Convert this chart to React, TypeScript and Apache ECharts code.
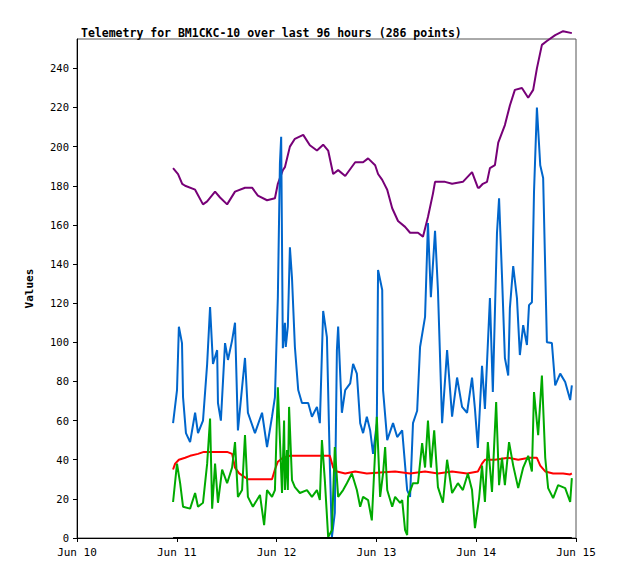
import { useEffect, useRef } from 'react';
import * as echarts from 'echarts';

// x values are hours since Jun 10 00:00
const tickLabels = ['Jun 10', 'Jun 11', 'Jun 12', 'Jun 13', 'Jun 14', 'Jun 15'];

const purple: [number, number][] = [
  [23.1, 189], [24.3, 186], [25.3, 181], [26.0, 180], [28.4, 178], [30.3, 170.5], [31.3, 172],
  [33.2, 177], [34.4, 174], [36.1, 170.5], [38.0, 177], [40.4, 179], [42.1, 179], [43.5, 175],
  [45.7, 172.6], [47.6, 173.6], [48.3, 181], [49.5, 188], [50.0, 189.5], [51.2, 200], [52.4, 204],
  [54.4, 206], [56.0, 200.7], [57.7, 198], [59.2, 201], [60.4, 198], [61.6, 186], [62.8, 188],
  [64.5, 185], [66.9, 192], [68.8, 192], [70.0, 194], [71.7, 190.5], [72.4, 186], [73.4, 183],
  [74.6, 178], [75.8, 168.5], [77.2, 162], [78.9, 159], [80.1, 156], [82.0, 156], [83.2, 154],
  [84.4, 164], [85.6, 176], [86.1, 182], [88.5, 182], [90.2, 181], [92.8, 182], [95.0, 187],
  [96.4, 179], [96.7, 179], [97.6, 181], [98.6, 182], [99.3, 189], [100.5, 190.5], [101.3, 202],
  [102.9, 211], [104.1, 221], [105.3, 229], [107.0, 230], [108.5, 225], [109.7, 229], [110.6, 240],
  [111.8, 252], [113.0, 254], [115.0, 257], [116.9, 259], [119.0, 258],
];

const blue: [number, number][] = [
  [23.1, 58.7], [24.05, 75.6], [24.5, 108], [25.25, 99.6], [25.5, 72], [26.2, 53.6], [27.2, 49],
  [28.4, 64], [29.1, 53.6], [30.3, 60], [31.3, 89], [32.0, 118], [32.7, 89], [33.7, 96], [33.9, 69],
  [34.6, 60], [35.6, 99.6], [36.3, 91], [37.3, 101], [38.0, 110], [38.7, 55], [39.7, 77], [40.4, 92],
  [41.1, 64], [42.8, 53.6], [44.5, 64], [45.7, 46.5], [46.9, 62], [47.6, 72], [48.3, 123],
  [48.8, 191.5], [49.1, 205], [49.5, 97], [50.0, 110], [50.2, 97.6], [50.7, 108], [51.2, 148.6],
  [51.7, 133], [52.4, 97.6], [53.2, 75.6], [54.1, 69], [55.6, 69], [56.5, 62], [57.7, 67],
  [58.4, 58.7], [59.2, 116], [60.1, 102.6], [60.8, 38], [61.3, 0.5], [62.0, 12.8], [62.5, 96],
  [62.8, 108], [63.7, 64], [64.5, 75.6], [65.7, 79], [66.4, 89], [67.3, 84], [68.1, 58.7],
  [68.8, 53.6], [69.7, 62], [70.5, 55], [71.2, 43], [72.1, 58.7], [72.4, 137], [73.4, 126.7],
  [73.6, 75.6], [74.6, 50], [76.0, 58.7], [77.0, 51.6], [78.2, 55], [79.4, 24.5], [80.1, 21],
  [80.8, 58.7], [81.8, 65], [82.5, 97.6], [83.7, 113], [84.4, 161], [85.1, 123], [86.1, 157],
  [86.8, 126.7], [87.8, 58.7], [89.0, 96], [90.2, 62], [91.4, 82], [92.6, 67], [93.8, 64],
  [95.0, 82], [95.7, 66], [96.4, 46], [97.4, 88], [98.1, 66], [99.3, 122.6], [100.0, 74.6],
  [101.0, 156], [101.5, 173.6], [102.2, 134], [102.9, 92], [103.7, 83], [104.1, 117.5],
  [104.9, 139], [105.8, 122.6], [106.5, 93.5], [107.3, 108.8], [108.2, 98.6], [108.7, 119],
  [109.4, 120.5], [109.9, 176.7], [110.6, 220], [111.4, 190.5], [112.1, 184], [113.0, 100],
  [114.2, 99.6], [115.0, 78], [116.2, 84], [117.4, 79.7], [118.6, 70.5], [119.0, 78],
];

const red: [number, number][] = [
  [23.1, 35], [23.6, 38], [24.5, 40], [26.0, 41], [27.2, 42], [29.1, 43], [30.5, 44], [33.2, 44],
  [36.1, 44], [37.3, 43], [38.0, 36], [39.0, 33], [40.4, 31], [41.1, 30], [43.5, 30], [46.9, 30],
  [47.6, 35], [48.3, 39], [49.5, 41], [51.2, 42], [54.1, 42], [57.7, 42], [60.8, 42], [61.6, 36],
  [62.5, 34], [64.5, 33], [66.9, 34], [69.7, 33], [72.9, 33.5], [76.5, 34], [80.1, 33],
  [83.7, 34], [86.8, 33], [90.2, 34], [93.8, 33], [96.4, 34], [97.4, 38], [98.1, 40],
  [100.5, 40], [103.7, 41], [106.1, 40], [108.7, 41], [110.6, 41], [111.4, 37], [112.6, 34],
  [114.5, 33], [116.9, 33], [118.6, 32.5], [119.0, 33],
];

const green: [number, number][] = [
  [23.1, 18.4], [24.05, 38], [24.8, 28], [25.5, 16], [27.2, 15], [28.4, 23], [29.1, 16],
  [30.3, 18], [31.3, 38], [32.0, 61], [32.5, 15], [33.2, 38], [33.9, 18], [34.9, 35], [36.1, 28],
  [37.3, 36], [38.0, 49], [38.7, 21], [39.7, 24.5], [40.4, 52.6], [41.1, 21], [42.3, 16],
  [44.0, 22], [45.0, 6.6], [45.7, 24.5], [46.9, 21], [47.6, 24.5], [48.3, 77], [49.3, 23],
  [49.8, 60], [50.0, 24.5], [50.5, 45], [50.7, 24.5], [51.0, 67], [51.7, 29.6], [52.4, 26],
  [53.6, 23], [55.3, 24.5], [56.5, 21], [57.7, 24.5], [58.4, 19.4], [58.9, 50], [59.6, 29.6],
  [60.4, 0.5], [61.3, 4], [62.0, 46.5], [62.8, 21], [64.0, 24.5], [64.9, 28], [66.1, 33],
  [67.3, 24.5], [68.1, 16], [68.8, 21], [70.0, 19.4], [70.9, 9], [72.1, 62], [72.9, 21],
  [73.6, 33], [74.1, 46.5], [74.6, 24.5], [75.8, 16], [76.5, 21], [77.7, 18], [78.2, 19.4],
  [78.9, 4], [79.4, 1.5], [79.6, 21], [80.8, 28], [82.0, 28], [83.0, 48.5], [83.7, 36],
  [84.4, 60], [85.1, 36], [85.9, 55], [86.8, 26], [88.0, 18], [89.0, 40], [90.2, 23], [91.6, 28],
  [92.8, 24.5], [94.0, 33], [95.0, 24.5], [95.7, 5], [96.7, 20.4], [97.4, 37], [98.1, 18.4],
  [98.8, 49], [99.8, 23.5], [100.8, 69.5], [101.5, 27], [102.2, 41], [102.9, 27], [103.9, 49],
  [104.9, 37], [106.1, 25.5], [107.3, 36], [108.5, 42], [109.4, 34], [109.9, 74.6],
  [110.9, 52.6], [111.8, 83], [112.6, 41], [113.3, 25.5], [114.5, 20.4], [115.7, 27],
  [117.4, 25.5], [118.6, 18.4], [119.0, 30.6],
];

const black: [number, number][] = [
  [23.1, 0], [48.0, 0], [72.0, 0], [96.0, 0], [119.0, 0],
];

const seriesList = [
  { name: 'purple', data: purple, color: '#770077' },
  { name: 'blue', data: blue, color: '#0066cc' },
  { name: 'red', data: red, color: '#ff0000' },
  { name: 'green', data: green, color: '#00aa00' },
  { name: 'black', data: black, color: '#000000' },
];

const font = 'DejaVu Sans Mono';

export default function App() {
  const chartRef = useRef<HTMLDivElement>(null);

  useEffect(() => {
    if (!chartRef.current) return;
    const chart = echarts.init(chartRef.current, null, { renderer: 'svg' });

    const option: echarts.EChartsOption = {
      animation: false,
      backgroundColor: '#ffffff',
      title: {
        text: 'Telemetry for BM1CKC-10 over last 96 hours (286 points)',
        left: 76,
        top: 22,
        textStyle: { fontFamily: font, fontSize: 11.5, fontWeight: 'bold', color: '#000' },
      },
      grid: {
        left: 77,
        right: 42,
        top: 39,
        bottom: 41,
        show: true,
        borderColor: '#555',
        borderWidth: 1,
      },
      xAxis: {
        type: 'value',
        min: 0,
        max: 120,
        interval: 24,
        axisLine: { lineStyle: { color: '#000' } },
        axisTick: { length: 4, lineStyle: { color: '#000' } },
        splitLine: { show: false },
        axisLabel: {
          color: '#000',
          fontFamily: font,
          fontSize: 11,
          margin: 9,
          formatter: (v: number) => tickLabels[Math.round(v / 24)] ?? '',
        },
      },
      yAxis: {
        type: 'value',
        min: 0,
        max: 255,
        interval: 20,
        name: 'Values',
        nameLocation: 'middle',
        nameGap: 42,
        nameRotate: 90,
        nameTextStyle: { fontFamily: font, fontSize: 11, fontWeight: 'bold', color: '#000' },
        axisLine: { show: true, lineStyle: { color: '#000' } },
        axisTick: {
          length: 4,
          lineStyle: { color: '#000' },
        },
        splitLine: { show: false },
        axisLabel: {
          color: '#000',
          fontFamily: font,
          fontSize: 10.5,
          margin: 8,
          showMaxLabel: false,
          formatter: (v: number) => (v % 20 === 0 ? String(v) : ''),
        },
      },
      series: seriesList.map((s) => ({
        name: s.name,
        type: 'line',
        data: s.data,
        symbol: 'none',
        clip: false,
        lineStyle: { color: s.color, width: 2 },
        emphasis: { disabled: true },
      })),
    };

    chart.setOption(option);
    return () => {
      chart.dispose();
    };
  }, []);

  return (
    <div
      ref={chartRef}
      style={{ position: 'absolute', left: 0, top: 0, width: 618, height: 579 }}
    />
  );
}
